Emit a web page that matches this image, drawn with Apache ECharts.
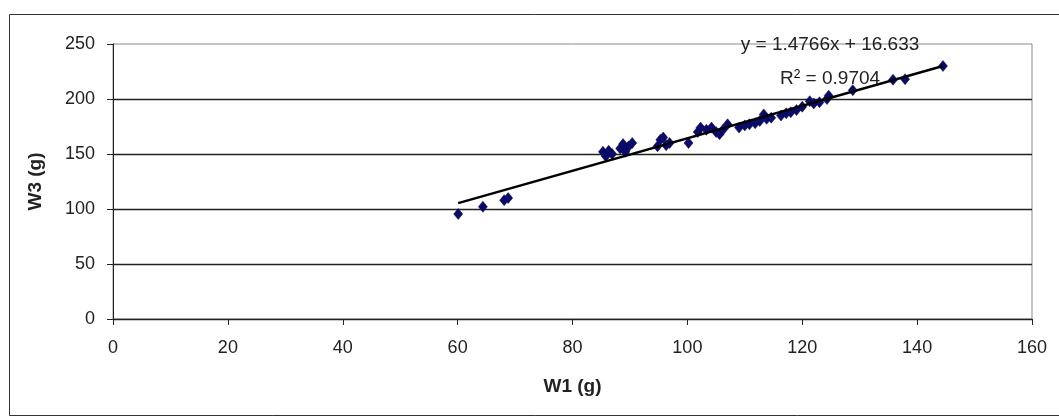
<!DOCTYPE html>
<html>
<head>
<meta charset="utf-8">
<script src="https://cdn.jsdelivr.net/npm/echarts@6/dist/echarts.min.js"></script>
<style>
html,body{margin:0;padding:0;background:#fff;}
#chart{width:1059px;height:417px;}
</style>
</head>
<body>
<div id="chart"></div>
<script>
const w1 = [60.1, 64.4, 68.1, 68.8,
  85.3, 85.8, 86.3, 86.9, 88.3, 88.8, 89.2, 89.8, 90.4,
  94.8, 95.3, 95.8, 96.3, 96.9,
  100.2,
  101.8, 102.3, 103.3, 104.2, 105.0, 105.6, 106.2, 107.0,
  109.0, 110.0, 110.8, 111.8, 112.6, 113.3, 113.8, 114.6,
  116.3, 117.2, 118.0, 119.0, 120.0, 121.3, 122.0, 123.0, 124.3, 124.6,
  128.8, 135.8, 137.9, 144.5];
const w3 = [95.5, 102, 108, 110,
  152, 148, 153, 150, 155, 159, 152, 157, 160,
  157, 163, 165, 158, 160,
  160,
  170, 174, 172, 174, 170, 168, 172, 177,
  174, 176, 177, 178, 180, 186, 182, 183,
  185, 187, 188, 190, 193, 198, 196, 197, 200, 203,
  208, 217.5, 218, 230];
const trendSlope = 1.4766;
const trendIntercept = 16.633;
const eqText = 'y = 1.4766x + 16.633';
const r2Value = '0.9704';
const xTitle = 'W1 (g)';
const yTitle = 'W3 (g)';

const points = w1.map((x, i) => [x, w3[i]]);
const xMin = Math.min(...w1), xMax = Math.max(...w1);
const trend = [[xMin, trendSlope * xMin + trendIntercept], [xMax, trendSlope * xMax + trendIntercept]];

const chart = echarts.init(document.getElementById('chart'), null, {renderer: 'canvas'});
const font = 'Liberation Sans, Arial, sans-serif';
chart.setOption({
  animation: false,
  backgroundColor: '#fff',
  grid: {left: 113, right: 27, top: 44, bottom: 98, show: true, borderColor: '#8a8a8a', borderWidth: 1, backgroundColor: 'transparent'},
  xAxis: {
    type: 'value', min: 0, max: 160, interval: 20,
    name: xTitle, nameLocation: 'middle', nameGap: 58,
    nameTextStyle: {fontFamily: font, fontSize: 19, fontWeight: 'bold', color: '#222'},
    axisLine: {show: true, lineStyle: {color: '#222', width: 1}},
    axisTick: {show: true, inside: false, length: 6, lineStyle: {color: '#222'}},
    axisLabel: {fontFamily: font, fontSize: 18, color: '#222', margin: 20},
    splitLine: {show: false}
  },
  yAxis: {
    type: 'value', min: 0, max: 250, interval: 50,
    name: yTitle, nameLocation: 'middle', nameGap: 68, nameRotate: 90,
    nameTextStyle: {fontFamily: font, fontSize: 19, fontWeight: 'bold', color: '#222'},
    axisLine: {show: true, lineStyle: {color: '#222', width: 1}},
    axisTick: {show: true, inside: false, length: 6, lineStyle: {color: '#222'}},
    axisLabel: {fontFamily: font, fontSize: 18, color: '#222', margin: 18},
    splitLine: {show: true, showMaxLine: false, lineStyle: {color: '#222', width: 1.3}}
  },
  series: [
    {
      type: 'scatter', data: points, symbol: 'diamond', symbolSize: [9, 11],
      itemStyle: {color: '#0b0b6b', opacity: 1, borderColor: '#05054a', borderWidth: 0.5}, z: 3
    },
    {
      type: 'line', data: trend, symbol: 'none', lineStyle: {color: '#000', width: 2.4}, z: 4
    }
  ],
  graphic: [
    {type: 'rect', left: 7, top: 12, shape: {width: 1060, height: 401}, style: {fill: 'none', stroke: '#333', lineWidth: 1}, z: 100, silent: true},
    {type: 'text', x: 830, y: 45, z: 110, style: {text: eqText, font: '19px ' + font, fill: '#222', textAlign: 'center', textVerticalAlign: 'middle'}},
    {type: 'text', x: 830, y: 79, z: 110, style: {
      text: '{a|R}{s|2}{a| = ' + r2Value + '}', textAlign: 'center', textVerticalAlign: 'middle',
      rich: {a: {fontFamily: font, fontSize: 19, fill: '#222', color: '#222'}, s: {fontFamily: font, fontSize: 12, color: '#222', verticalAlign: 'top', padding: [0,0,8,0]}}
    }}
  ]
});
</script>
</body>
</html>
